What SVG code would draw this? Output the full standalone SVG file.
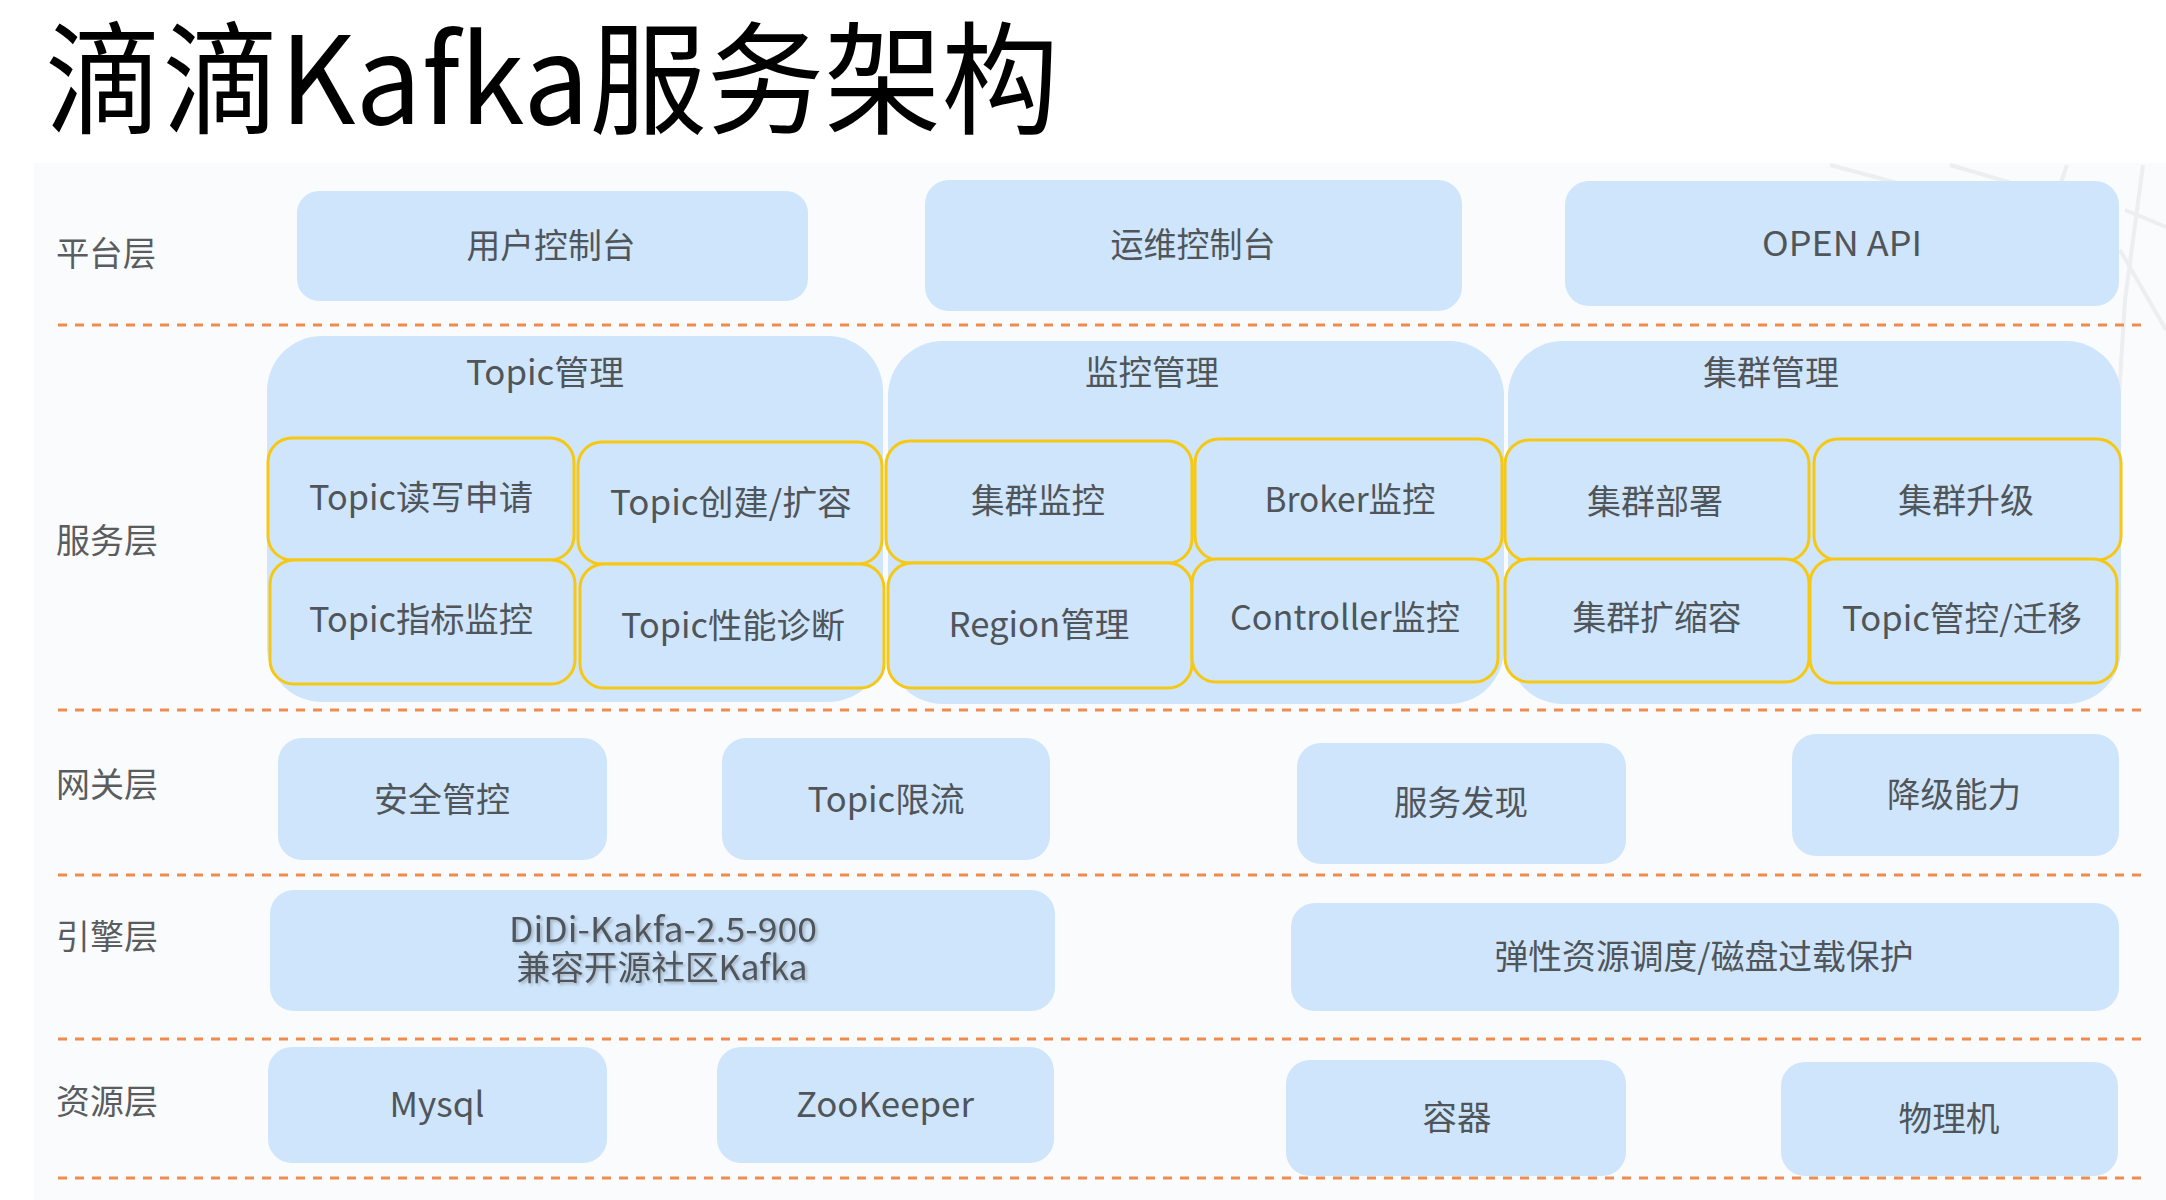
<svg xmlns="http://www.w3.org/2000/svg" width="2166" height="1200" viewBox="0 0 2166 1200">
<defs>
<style>
.t{font-family:"Noto Sans CJK SC","Noto Sans",sans-serif;fill:#50555a;font-size:34px;text-anchor:middle}
.lbl{font-family:"Noto Sans CJK SC","Noto Sans",sans-serif;fill:#5a5d60;font-size:34px}
.box{fill:#cfe5fb}
.grp{fill:#cfe5fb}
.inner{fill:#cfe5fb;stroke:#f6c814;stroke-width:3}
.dash{stroke:#ef8b50;stroke-width:3;stroke-dasharray:9 8;fill:none}
.deco{stroke:#eceef0;stroke-width:4;fill:none}
</style>
<filter id="sh" x="-10%" y="-30%" width="120%" height="160%">
<feDropShadow dx="2" dy="2" stdDeviation="1.5" flood-color="#7d8895" flood-opacity="0.55"/>
</filter>
</defs>
<rect x="0" y="0" width="2166" height="1200" fill="#ffffff"/>
<rect x="34" y="163" width="2132" height="1037" fill="#fafbfc"/>
<g id="decoration">
<line class="deco" x1="1830" y1="165" x2="1905" y2="185"/>
<line class="deco" x1="1950" y1="165" x2="2070" y2="200"/>
<line class="deco" x1="2067" y1="165" x2="2055" y2="200"/>
<line class="deco" x1="2143" y1="165" x2="2125" y2="300"/>
<line class="deco" x1="2125" y1="210" x2="2166" y2="227"/>
<line class="deco" x1="2120" y1="250" x2="2166" y2="330"/>
<line class="deco" x1="2125" y1="300" x2="2115" y2="460"/>
</g>
<text x="45" y="124" font-family="'Noto Sans CJK SC','Noto Sans',sans-serif" font-size="122" fill="#000000" textLength="1014" lengthAdjust="spacingAndGlyphs">滴滴Kafka服务架构</text>

<g id="layer-labels">
<text class="lbl" x="56" y="266" textLength="100" lengthAdjust="spacingAndGlyphs">平台层</text>
<text class="lbl" x="56" y="553" textLength="102" lengthAdjust="spacingAndGlyphs">服务层</text>
<text class="lbl" x="56" y="797" textLength="102" lengthAdjust="spacingAndGlyphs">网关层</text>
<text class="lbl" x="56" y="949" textLength="102" lengthAdjust="spacingAndGlyphs">引擎层</text>
<text class="lbl" x="56" y="1114" textLength="102" lengthAdjust="spacingAndGlyphs">资源层</text>
</g>

<g id="connectors">
<line class="dash" x1="58" y1="325" x2="2145" y2="325"/>
<line class="dash" x1="58" y1="710" x2="2145" y2="710"/>
<line class="dash" x1="58" y1="875" x2="2145" y2="875"/>
<line class="dash" x1="58" y1="1039" x2="2145" y2="1039"/>
<line class="dash" x1="58" y1="1178" x2="2145" y2="1178"/>
</g>

<g id="user-console"><rect class="box" x="297" y="191" width="511" height="110" rx="22"/><text class="t" x="551" y="258" textLength="169" lengthAdjust="spacingAndGlyphs">用户控制台</text></g>
<g id="ops-console"><rect class="box" x="925" y="180" width="537" height="131" rx="24"/><text class="t" x="1193" y="257" textLength="165" lengthAdjust="spacingAndGlyphs">运维控制台</text></g>
<g id="open-api"><rect class="box" x="1565" y="181" width="554" height="125" rx="24"/><text class="t" x="1842" y="256" textLength="160" lengthAdjust="spacingAndGlyphs">OPEN API</text></g>

<g id="topic-mgmt"><rect class="grp" x="267" y="336" width="616" height="366" rx="55"/><text class="t" x="545" y="385" textLength="158" lengthAdjust="spacingAndGlyphs">Topic管理</text></g>
<g id="monitor-mgmt"><rect class="grp" x="888" y="341" width="616" height="363" rx="55"/><text class="t" x="1152" y="385" textLength="134" lengthAdjust="spacingAndGlyphs">监控管理</text></g>
<g id="cluster-mgmt"><rect class="grp" x="1508" y="341" width="613" height="363" rx="55"/><text class="t" x="1771" y="385" textLength="136" lengthAdjust="spacingAndGlyphs">集群管理</text></g>

<g id="topic-rw"><rect class="inner" x="268" y="438" width="306" height="122" rx="24"/><text class="t" x="421" y="510" textLength="224" lengthAdjust="spacingAndGlyphs">Topic读写申请</text></g>
<g id="topic-create"><rect class="inner" x="578" y="442" width="304" height="122" rx="24"/><text class="t" x="731" y="515" textLength="242" lengthAdjust="spacingAndGlyphs">Topic创建/扩容</text></g>
<g id="topic-metrics"><rect class="inner" x="270" y="560" width="305" height="124" rx="24"/><text class="t" x="421" y="632" textLength="224" lengthAdjust="spacingAndGlyphs">Topic指标监控</text></g>
<g id="topic-perf"><rect class="inner" x="580" y="564" width="304" height="124" rx="24"/><text class="t" x="733" y="638" textLength="224" lengthAdjust="spacingAndGlyphs">Topic性能诊断</text></g>
<g id="cluster-monitor"><rect class="inner" x="886" y="441" width="306" height="122" rx="24"/><text class="t" x="1038" y="513" textLength="134" lengthAdjust="spacingAndGlyphs">集群监控</text></g>
<g id="region-mgmt"><rect class="inner" x="888" y="563" width="304" height="125" rx="24"/><text class="t" x="1039" y="637" textLength="181" lengthAdjust="spacingAndGlyphs">Region管理</text></g>
<g id="broker-monitor"><rect class="inner" x="1195" y="439" width="307" height="121" rx="24"/><text class="t" x="1350" y="512" textLength="171" lengthAdjust="spacingAndGlyphs">Broker监控</text></g>
<g id="controller-monitor"><rect class="inner" x="1192" y="559" width="306" height="123" rx="24"/><text class="t" x="1345" y="630" textLength="230" lengthAdjust="spacingAndGlyphs">Controller监控</text></g>
<g id="cluster-deploy"><rect class="inner" x="1505" y="440" width="304" height="121" rx="24"/><text class="t" x="1655" y="514" textLength="136" lengthAdjust="spacingAndGlyphs">集群部署</text></g>
<g id="cluster-upgrade"><rect class="inner" x="1814" y="439" width="307" height="121" rx="24"/><text class="t" x="1966" y="513" textLength="136" lengthAdjust="spacingAndGlyphs">集群升级</text></g>
<g id="cluster-scale"><rect class="inner" x="1505" y="559" width="304" height="123" rx="24"/><text class="t" x="1657" y="630" textLength="169" lengthAdjust="spacingAndGlyphs">集群扩缩容</text></g>
<g id="topic-migrate"><rect class="inner" x="1810" y="559" width="307" height="124" rx="24"/><text class="t" x="1962" y="631" textLength="240" lengthAdjust="spacingAndGlyphs">Topic管控/迁移</text></g>

<g id="security"><rect class="box" x="278" y="738" width="329" height="122" rx="24"/><text class="t" x="442" y="812" textLength="136" lengthAdjust="spacingAndGlyphs">安全管控</text></g>
<g id="topic-limit"><rect class="box" x="722" y="738" width="328" height="122" rx="24"/><text class="t" x="886" y="812" textLength="157" lengthAdjust="spacingAndGlyphs">Topic限流</text></g>
<g id="discovery"><rect class="box" x="1297" y="743" width="329" height="121" rx="24"/><text class="t" x="1461" y="815" textLength="134" lengthAdjust="spacingAndGlyphs">服务发现</text></g>
<g id="degrade"><rect class="box" x="1792" y="734" width="327" height="122" rx="24"/><text class="t" x="1954" y="807" textLength="134" lengthAdjust="spacingAndGlyphs">降级能力</text></g>

<g id="didi-kafka"><rect class="box" x="270" y="890" width="785" height="121" rx="24"/>
<g filter="url(#sh)"><text class="t" x="663" y="942" textLength="308" lengthAdjust="spacingAndGlyphs">DiDi-Kakfa-2.5-900</text><text class="t" x="662" y="980" textLength="291" lengthAdjust="spacingAndGlyphs">兼容开源社区Kafka</text></g></g>
<g id="elastic"><rect class="box" x="1291" y="903" width="828" height="108" rx="24"/><text class="t" x="1704" y="969" textLength="419" lengthAdjust="spacingAndGlyphs">弹性资源调度/磁盘过载保护</text></g>

<g id="mysql"><rect class="box" x="268" y="1047" width="339" height="116" rx="24"/><text class="t" x="437" y="1117" textLength="95" lengthAdjust="spacingAndGlyphs">Mysql</text></g>
<g id="zookeeper"><rect class="box" x="717" y="1047" width="337" height="116" rx="24"/><text class="t" x="885" y="1117" textLength="178" lengthAdjust="spacingAndGlyphs">ZooKeeper</text></g>
<g id="container"><rect class="box" x="1286" y="1060" width="340" height="116" rx="24"/><text class="t" x="1457" y="1130" textLength="69" lengthAdjust="spacingAndGlyphs">容器</text></g>
<g id="physical"><rect class="box" x="1781" y="1062" width="337" height="114" rx="24"/><text class="t" x="1949" y="1131" textLength="101" lengthAdjust="spacingAndGlyphs">物理机</text></g>
</svg>
